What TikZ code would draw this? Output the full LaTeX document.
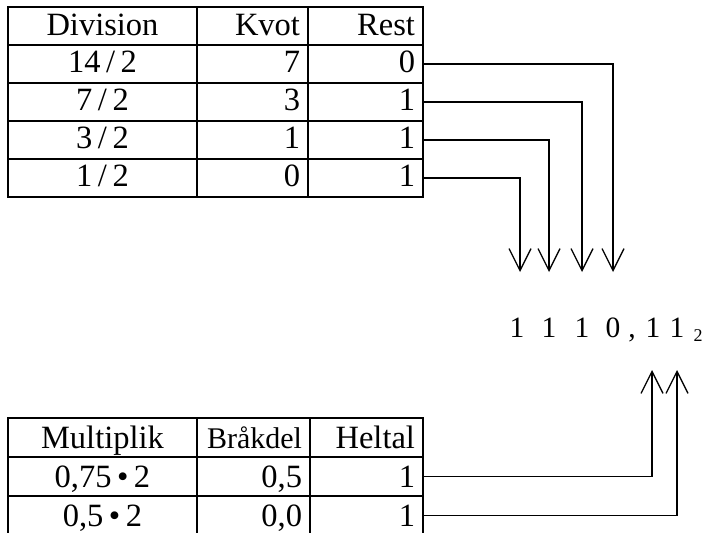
\documentclass[tikz,border=0pt]{standalone}
\usepackage{fontspec}
\setmainfont{Liberation Serif}
\usetikzlibrary{arrows.meta}
\newcommand{\tsp}{\kern0.17em}
\begin{document}
\begin{tikzpicture}[x=1pt,y=-1pt,
  cell/.style={draw, line width=1.8pt, inner sep=0pt, font=\rmfamily\fontsize{32.5}{39}\selectfont},
  topcell/.style={cell, minimum height=38pt, text height=22pt, text depth=5pt},
  tophdr/.style={cell, minimum height=38pt, text height=24.5pt, text depth=4.5pt},
  botcell/.style={cell, minimum height=39pt, text height=25pt, text depth=4pt},
  ca/.style={minimum width=189pt, text width=173pt, align=center},
  cb/.style={minimum width=111pt, text width=95pt, align=right},
  cc/.style={minimum width=115pt, text width=99pt, align=right},
  cbb/.style={minimum width=113pt, text width=97pt, align=right},
  ccb/.style={minimum width=113pt, text width=97pt, align=right},
  digit/.style={font=\rmfamily\fontsize{29.5}{35}\selectfont, inner sep=0pt, anchor=base},
  conn/.style={line width=1.3pt, -{Straight Barb[length=22pt,width=22pt]}}]
\useasboundingbox (0,0) rectangle (708,532);
% top table
\node[tophdr,ca] (hd) at (102.5,26) {Division};
\node[tophdr,cb] (hk) at (252.5,26) {Kvot};
\node[tophdr,cc] (hr) at (365.5,26) {Rest};
\node[topcell,ca] (d1) at (102.5,64) {14\tsp/\tsp2};
\node[topcell,cb] (k1) at (252.5,64) {7};
\node[topcell,cc] (r1) at (365.5,64) {0};
\node[topcell,ca] (d2) at (102.5,102) {7\tsp/\tsp2};
\node[topcell,cb] (k2) at (252.5,102) {3};
\node[topcell,cc] (r2) at (365.5,102) {1};
\node[topcell,ca] (d3) at (102.5,140) {3\tsp/\tsp2};
\node[topcell,cb] (k3) at (252.5,140) {1};
\node[topcell,cc] (r3) at (365.5,140) {1};
\node[topcell,ca] (d4) at (102.5,178) {1\tsp/\tsp2};
\node[topcell,cb] (k4) at (252.5,178) {0};
\node[topcell,cc] (r4) at (365.5,178) {1};
% bottom table
\node[botcell,ca] (hm) at (102.5,437.5) {Multiplik};
\node[botcell,cbb] (hb) at (253.5,437.5) {\fontsize{30}{36}\selectfont Bråkdel};
\node[botcell,ccb] (hh) at (366.5,437.5) {Heltal};
\node[botcell,ca] (m1) at (102.5,476.5) {0,75\tsp•\tsp2};
\node[botcell,cbb] (b1) at (253.5,476.5) {0,5};
\node[botcell,ccb] (g1) at (366.5,476.5) {1};
\node[botcell,ca] (m2) at (102.5,515.5) {0,5\tsp•\tsp2};
\node[botcell,cbb] (b2) at (253.5,515.5) {0,0};
\node[botcell,ccb] (g2) at (366.5,515.5) {1};
% result
\node[digit] (n1) at (517,337) {1};
\node[digit] (n2) at (549,337) {1};
\node[digit] (n3) at (582,337) {1};
\node[digit] (n4) at (613,337) {0};
\node[digit] (nc) at (632,337) {,};
\node[digit] (f1) at (653,337) {1};
\node[digit] (f2) at (677,337) {1};
\node[digit, font=\rmfamily\fontsize{18}{21}\selectfont] (sb) at (698,341) {2};
% arrow tips
\coordinate (t1) at (520,272);
\coordinate (t2) at (549,272);
\coordinate (t3) at (582,272);
\coordinate (t4) at (613,272);
\coordinate (u1) at (652,370);
\coordinate (u2) at (677,370);
\draw[conn] (r1.east) -| (t4);
\draw[conn] (r2.east) -| (t3);
\draw[conn] (r3.east) -| (t2);
\draw[conn] (r4.east) -| (t1);
\draw[conn] (g1.east) -| (u1);
\draw[conn] (g2.east) -| (u2);
\end{tikzpicture}
\end{document}
